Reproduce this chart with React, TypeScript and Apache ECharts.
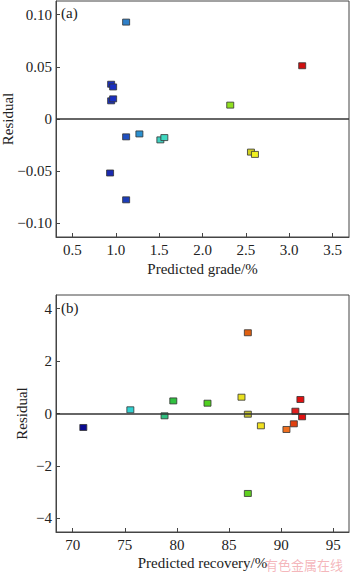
import React, { useEffect, useRef } from "react";
import * as echarts from "echarts";

// Panel (a): predicted grade vs residual
const gradePredicted = [1.119, 0.946, 0.969, 0.946, 0.969, 1.119, 1.272, 1.514, 1.56, 0.934, 1.119, 3.15, 2.32, 2.559, 2.605];
const gradeResidual = [0.0928, 0.0333, 0.0307, 0.0174, 0.0193, -0.0171, -0.0143, -0.02, -0.0178, -0.0517, -0.0774, 0.051, 0.0133, -0.0317, -0.0339];
const gradeColors = ["#2f7fc8", "#1a30c0", "#1a30c0", "#1a30c0", "#1a30c0", "#2050c0", "#2a90d0", "#40d0c0", "#40d8c0", "#1a2ab0", "#1c3cb8", "#d01010", "#90e020", "#d0d020", "#f0f020"];
const gradeXTicks = [0.5, 1.0, 1.5, 2.0, 2.5, 3.0, 3.5];
const gradeYTicks = [-0.1, -0.05, 0, 0.05, 0.1];

// Panel (b): predicted recovery vs residual
const recoveryPredicted = [71.02, 75.53, 78.81, 79.65, 82.93, 86.8, 86.19, 86.8, 88.05, 86.8, 90.5, 91.21, 91.36, 91.84, 92.0];
const recoveryResidual = [-0.534, 0.141, -0.088, 0.48, 0.393, 3.08, 0.622, -0.027, -0.47, -3.05, -0.61, -0.393, 0.088, 0.534, -0.126];
const recoveryColors = ["#0a0a90", "#30d0d0", "#30c080", "#30c040", "#50d020", "#e06010", "#e8e020", "#c0c030", "#f0e020", "#60d020", "#f07020", "#e04010", "#e02020", "#e01010", "#e01010"];
const recoveryXTicks = [70, 75, 80, 85, 90, 95];
const recoveryYTicks = [-4, -2, 0, 2, 4];

const FONT = "'Liberation Serif', 'Times New Roman', serif";
const AX = "#444";

function fmtMinus(s: string) {
  return s.replace("-", "\u2212");
}

export default function App() {
  const ref = useRef<HTMLDivElement>(null);
  useEffect(() => {
    if (!ref.current) return;
    const chart = echarts.init(ref.current, null, { renderer: "svg" });

    const axisCommon = {
      axisLine: { show: true, onZero: false, lineStyle: { color: AX, width: 1 } },
      axisTick: { show: true, inside: true, length: 4, lineStyle: { color: AX, width: 1 } },
      splitLine: { show: false },
      nameMoveOverlap: false,
      nameTextStyle: { fontFamily: FONT, fontSize: 15, color: "#222" },
    };
    const labelCommon = { fontFamily: FONT, fontSize: 15, color: "#222" };

    const mkData = (xs: number[], ys: number[], cs: string[]) =>
      xs.map((x, i) => ({ value: [x, ys[i]], itemStyle: { color: cs[i] } }));

    const zeroLine = {
      silent: true,
      symbol: "none",
      label: { show: false },
      lineStyle: { color: "#333", width: 1.5, type: "solid" },
      data: [{ yAxis: 0 }],
    };

    chart.setOption({
      animation: false,
      grid: [
        { left: 56, top: 1, right: 1, height: 236, show: true, borderColor: AX, borderWidth: 1, backgroundColor: "transparent", containLabel: false, outerBoundsMode: "none" },
        { left: 56, top: 295, right: 1, height: 237, show: true, borderColor: AX, borderWidth: 1, backgroundColor: "transparent", containLabel: false, outerBoundsMode: "none" },
      ],
      xAxis: [
        {
          ...axisCommon,
          gridIndex: 0,
          type: "value",
          min: 0.31,
          max: 3.69,
          name: "Predicted grade/%",
          nameLocation: "middle",
          nameGap: 24,
          axisTick: { ...axisCommon.axisTick, customValues: gradeXTicks },
          axisLabel: { ...labelCommon, margin: 5, customValues: gradeXTicks, formatter: (v: number) => v.toFixed(1) },
        },
        {
          ...axisCommon,
          gridIndex: 1,
          type: "value",
          min: 68.4,
          max: 96.5,
          name: "Predicted recovery/%",
          nameLocation: "middle",
          nameGap: 23,
          axisTick: { ...axisCommon.axisTick, customValues: recoveryXTicks },
          axisLabel: { ...labelCommon, margin: 5, customValues: recoveryXTicks, formatter: (v: number) => String(v) },
        },
      ],
      yAxis: [
        {
          ...axisCommon,
          gridIndex: 0,
          type: "value",
          min: -0.113,
          max: 0.113,
          name: "Residual",
          nameLocation: "middle",
          nameRotate: 90,
          nameGap: 41,
          axisTick: { ...axisCommon.axisTick, customValues: gradeYTicks },
          axisLabel: {
            ...labelCommon,
            margin: 4,
            customValues: gradeYTicks,
            formatter: (v: number) => (Math.abs(v) < 1e-9 ? "0" : fmtMinus(v.toFixed(2))),
          },
        },
        {
          ...axisCommon,
          gridIndex: 1,
          type: "value",
          min: -4.52,
          max: 4.52,
          name: "Residual",
          nameLocation: "middle",
          nameRotate: 90,
          nameGap: 27,
          axisTick: { ...axisCommon.axisTick, customValues: recoveryYTicks },
          axisLabel: {
            ...labelCommon,
            margin: 4,
            customValues: recoveryYTicks,
            formatter: (v: number) => fmtMinus(String(v)),
          },
        },
      ],
      series: [
        {
          type: "scatter",
          xAxisIndex: 0,
          yAxisIndex: 0,
          symbol: "rect",
          symbolSize: [7, 6],
          itemStyle: { borderColor: "#333", borderWidth: 0.8, opacity: 1 },
          data: mkData(gradePredicted, gradeResidual, gradeColors),
          markLine: zeroLine,
          z: 3,
        },
        {
          type: "scatter",
          xAxisIndex: 1,
          yAxisIndex: 1,
          symbol: "rect",
          symbolSize: [7, 6],
          itemStyle: { borderColor: "#333", borderWidth: 0.8, opacity: 1 },
          data: mkData(recoveryPredicted, recoveryResidual, recoveryColors),
          markLine: zeroLine,
          z: 3,
        },
      ],
      graphic: [
        { type: "text", x: 61, y: 13, style: { text: "(a)", fontFamily: FONT, fontSize: 15, fill: "#222", verticalAlign: "middle" } },
        { type: "text", x: 61, y: 308, style: { text: "(b)", fontFamily: FONT, fontSize: 15, fill: "#222", verticalAlign: "middle" } },
        {
          type: "text",
          x: 265,
          y: 564,
          z: 10,
          style: { text: "有色金属在线", fontFamily: "'Noto Sans CJK SC'", fontSize: 13, fill: "rgba(235,120,130,0.55)", verticalAlign: "middle" },
        },
      ],
    });
    return () => chart.dispose();
  }, []);
  return <div ref={ref} style={{ position: "absolute", left: 0, top: 0, width: 350, height: 572, background: "#fff" }} />;
}
